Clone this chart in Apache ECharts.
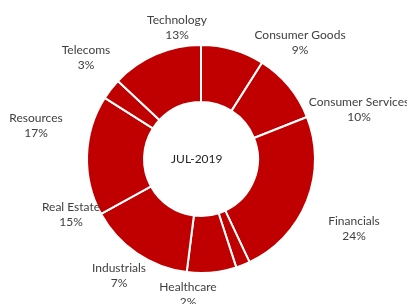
<!DOCTYPE html>
<html>
<head>
<meta charset="utf-8">
<script src="https://cdn.jsdelivr.net/npm/echarts@6/dist/echarts.min.js"></script>
<style>
html, body { margin: 0; padding: 0; background: #fff; }
#chart { width: 407px; height: 304px; }
</style>
</head>
<body>
<div id="chart"></div>
<script>
var sectors = ['Consumer Goods', 'Consumer Services', 'Financials', 'Healthcare', 'Industrials', 'Real Estate', 'Resources', 'Telecoms', 'Technology'];
var weights = [9, 10, 24, 2, 7, 15, 17, 3, 13];
var centerText = 'JUL-2019';

// where excel dropped each data label (text block centre, px)
var labelSpots = [[300, 43], [359, 110], [354, 229], [188, 295], [119, 276], [71, 215], [36, 126], [86, 58], [177, 28]];

var data = [];
for (var i = 0; i < sectors.length; i++) {
	data.push({name: sectors[i], value: weights[i]});
}

var myChart = echarts.init(document.getElementById('chart'));
var option = {
	animation: false,
	graphic: [{
		type: 'text',
		left: 171,
		top: 153,
		z: 10,
		style: {
			text: centerText,
			font: '12px Lato',
			fill: '#262626'
		}
	}],
	series: [{
		type: 'pie',
		center: [201, 159],
		radius: [57, 114],
		startAngle: 90,
		itemStyle: {
			color: '#C00000',
			borderColor: '#fff',
			borderWidth: 2
		},
		label: {
			position: 'outside',
			formatter: '{b}\n{c}%',
			fontFamily: 'Lato',
			fontSize: 12,
			lineHeight: 15,
			color: '#404040',
			overflow: 'none'
		},
		labelLine: {
			show: false
		},
		labelLayout: function (params) {
			var p = labelSpots[params.dataIndex];
			return {x: p[0], y: p[1], align: 'center', verticalAlign: 'middle'};
		},
		data: data
	}]
};
myChart.setOption(option);
</script>
</body>
</html>
